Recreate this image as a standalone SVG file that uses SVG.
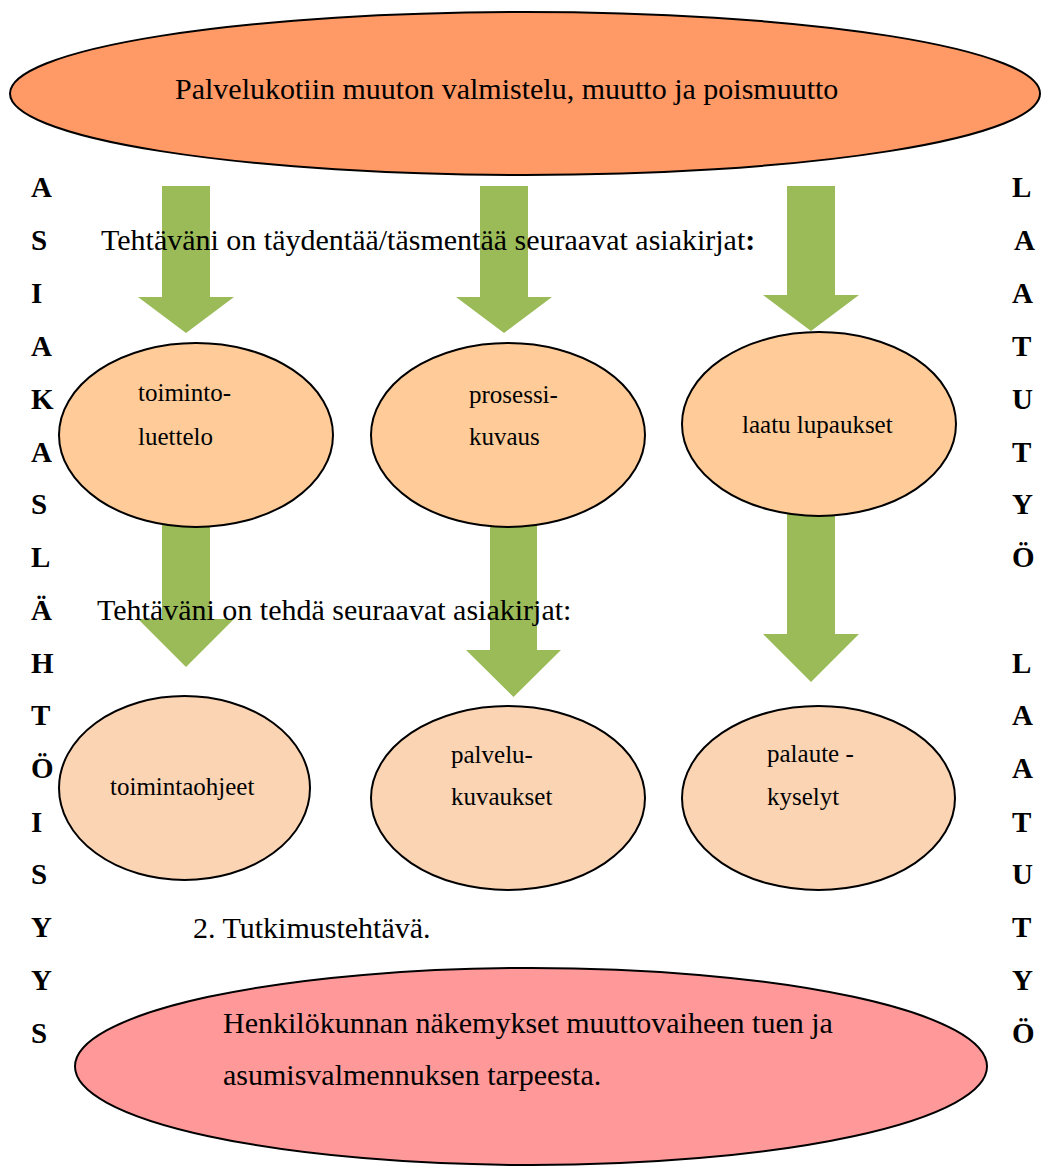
<svg xmlns="http://www.w3.org/2000/svg" width="1042" height="1169" viewBox="0 0 1042 1169">
<style>
text{font-family:"Liberation Serif","Times New Roman",serif;fill:#000}
.big{font-size:30px}
.sm{font-size:25px}
.let{font-size:29px;font-weight:bold}
.node{stroke:#000;stroke-width:2}
.arrow{fill:#9BBB59;stroke:none}
</style>
<rect width="1042" height="1169" fill="#fff"/>
<g id="connectors">
<polygon class="arrow" points="162,186 210,186 210,297 234,297 186,333 138,297 162,297"/>
<polygon class="arrow" points="480,186 528,186 528,297 552,297 504,333 456,297 480,297"/>
<polygon class="arrow" points="787,186 835,186 835,295 859,295 811,331 763,295 787,295"/>
<polygon class="arrow" points="162,505 210,505 210,619 234,619 186,667 138,619 162,619"/>
<polygon class="arrow" points="490,505 537,505 537,650 561,650 513.5,697 466,650 490,650"/>
<polygon class="arrow" points="787,500 835,500 835,634 859,634 811,682 763,634 787,634"/>
</g>
<g id="title">
<ellipse class="node" cx="525" cy="93.5" rx="515" ry="81.5" fill="#FF9966"/>
<text class="big" x="175" y="99">Palvelukotiin muuton valmistelu, muutto ja poismuutto</text>
</g>
<g id="label1">
<text class="big" x="101" y="250">Tehtäväni on täydentää/täsmentää seuraavat asiakirjat<tspan font-weight="bold">:</tspan></text>
</g>
<g id="toimintoluettelo">
<ellipse class="node" cx="196" cy="435" rx="137" ry="92" fill="#FFCC99"/>
<text class="sm" x="138" y="401">toiminto-</text>
<text class="sm" x="138" y="445">luettelo</text>
</g>
<g id="prosessikuvaus">
<ellipse class="node" cx="508" cy="435" rx="137" ry="92" fill="#FFCC99"/>
<text class="sm" x="469" y="403">prosessi-</text>
<text class="sm" x="469" y="445">kuvaus</text>
</g>
<g id="laatulupaukset">
<ellipse class="node" cx="819" cy="424" rx="137" ry="92" fill="#FFCC99"/>
<text class="sm" x="742" y="433">laatu lupaukset</text>
</g>
<g id="label2">
<text class="big" x="97" y="620">Tehtäväni on tehdä seuraavat asiakirjat:</text>
</g>
<g id="toimintaohjeet">
<ellipse class="node" cx="184.5" cy="788" rx="125.5" ry="92" fill="#FBD4B4"/>
<text class="sm" x="110" y="795">toimintaohjeet</text>
</g>
<g id="palvelukuvaukset">
<ellipse class="node" cx="508" cy="798" rx="137" ry="92" fill="#FBD4B4"/>
<text class="sm" x="451" y="763">palvelu-</text>
<text class="sm" x="451" y="805">kuvaukset</text>
</g>
<g id="palautekyselyt">
<ellipse class="node" cx="818.5" cy="798" rx="136.5" ry="92" fill="#FBD4B4"/>
<text class="sm" x="767" y="762">palaute -</text>
<text class="sm" x="767" y="805">kyselyt</text>
</g>
<g id="label3">
<text class="big" x="193" y="938">2. Tutkimustehtävä.</text>
</g>
<g id="tutkimustehtava">
<ellipse class="node" cx="531" cy="1066.5" rx="456" ry="98.5" fill="#FF9999"/>
<text class="big" x="223" y="1033" font-size="29.5">Henkilökunnan näkemykset muuttovaiheen tuen ja</text>
<text class="big" x="223" y="1085" font-size="29.5">asumisvalmennuksen tarpeesta.</text>
</g>
<g id="left-letters">
<text class="let" x="31" y="197">A</text>
<text class="let" x="31" y="250">S</text>
<text class="let" x="31" y="303">I</text>
<text class="let" x="31" y="356">A</text>
<text class="let" x="31" y="409">K</text>
<text class="let" x="31" y="462">A</text>
<text class="let" x="31" y="514">S</text>
<text class="let" x="31" y="567">L</text>
<text class="let" x="31" y="620">Ä</text>
<text class="let" x="31" y="673">H</text>
<text class="let" x="31" y="725">T</text>
<text class="let" x="31" y="778">Ö</text>
<text class="let" x="31" y="832">I</text>
<text class="let" x="31" y="884">S</text>
<text class="let" x="31" y="937">Y</text>
<text class="let" x="31" y="990">Y</text>
<text class="let" x="31" y="1043">S</text>
</g>
<g id="right-letters">
<text class="let" x="1012" y="197">L</text>
<text class="let" x="1014" y="250">A</text>
<text class="let" x="1012" y="303">A</text>
<text class="let" x="1012" y="356">T</text>
<text class="let" x="1012" y="409">U</text>
<text class="let" x="1012" y="462">T</text>
<text class="let" x="1012" y="514">Y</text>
<text class="let" x="1012" y="567">Ö</text>
<text class="let" x="1012" y="673">L</text>
<text class="let" x="1012" y="725">A</text>
<text class="let" x="1012" y="778">A</text>
<text class="let" x="1012" y="832">T</text>
<text class="let" x="1012" y="884">U</text>
<text class="let" x="1012" y="937">T</text>
<text class="let" x="1012" y="990">Y</text>
<text class="let" x="1012" y="1043">Ö</text>
</g>
</svg>
